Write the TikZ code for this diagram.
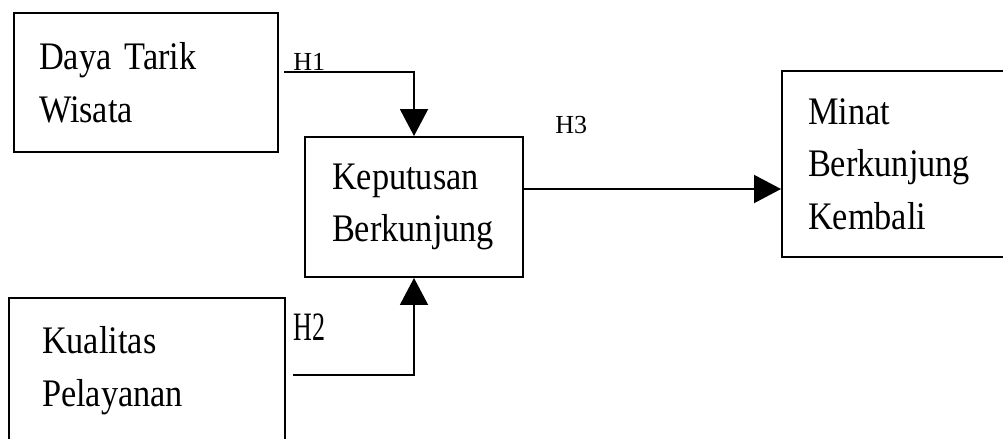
\documentclass[tikz,border=0pt]{standalone}
\usepackage{fontspec}
\setmainfont[FakeStretch=0.88]{Liberation Serif}
\newfontfamily\labelfont{Liberation Serif}
\usetikzlibrary{arrows.meta}
\tikzstyle{varbox} = [
    rectangle,
    draw=black,
    line width=0.04cm,
    align=left,
    font=\fontsize{22.2}{30}\selectfont
]
\tikzstyle{hlabel} = [
    anchor=base west,
    inner sep=0pt,
    font=\labelfont\fontsize{14.8}{16}\selectfont
]
\tikzstyle{arrow} = [line width=0.04cm,-{Triangle[length=0.54cm,width=0.56cm]}]

\begin{document}
\begin{tikzpicture}[x=0.02cm,y=-0.02cm]

\clip (0,0) rectangle (1003,439);

\node (daya) [varbox, minimum width=5.28cm, minimum height=2.78cm,
    inner xsep=0.5cm, text width=4.28cm] at (146,82.5)
{Daya Tarik\\Wisata};

\node (keputusan) [varbox, minimum width=4.36cm, minimum height=2.8cm,
    inner xsep=0.54cm, text width=3.28cm] at (414,207)
{Keputusan\\Berkunjung};

\node (minat) [varbox, minimum width=4.76cm, minimum height=3.72cm,
    inner xsep=0.52cm, text width=3.72cm] at (901,164)
{Minat\\Berkunjung\\Kembali};

\node (kualitas) [varbox, minimum width=5.52cm, minimum height=2.92cm,
    inner xsep=0.66cm, text width=4.2cm] at (147,371)
{Kualitas\\Pelayanan};

\node (h1) [hlabel] at (293,71) {H1};
\node (h2) [hlabel] at (293,340) {\scalebox{1}[1.55]{H2}};
\node (h3) [hlabel] at (555,133) {H3};

\draw [arrow] ([shift={(5,-10)}]daya.east) -| (keputusan.north);
\draw [arrow] ([shift={(7,4)}]kualitas.east) -| (keputusan.south);

\coordinate (h3start) at ([shift={(0,-18)}]keputusan.east);
\draw [arrow] (h3start) -- (h3start -| minat.west);

\end{tikzpicture}
\end{document}
